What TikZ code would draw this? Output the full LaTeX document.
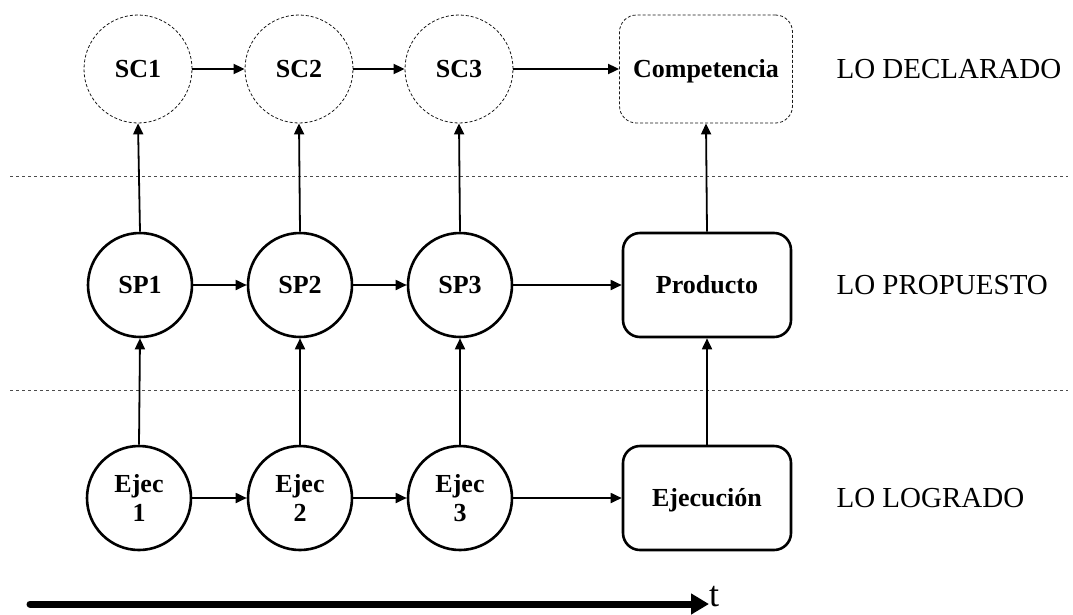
\documentclass[tikz,border=0pt]{standalone}
\usepackage{fontspec}
\setmainfont{Liberation Serif}
\usetikzlibrary{arrows.meta}
\begin{document}
\begin{tikzpicture}[x=1pt,y=-1pt,
  nfont/.style={font=\fontsize{26}{29}\selectfont\bfseries},
  oneline/.style={text height=17pt,text depth=0pt},
  dline/.style={draw=black!90,dash pattern=on 3pt off 2pt,line width=0.8pt},
  dcirc/.style={circle,dline,minimum size=108pt,inner sep=0pt,nfont,oneline},
  dbox/.style={rectangle,rounded corners=17pt,dline,minimum width=173pt,minimum height=108pt,nfont,oneline},
  scirc/.style={circle,draw=black,line width=2.6pt,minimum size=104pt,inner sep=0pt,align=center,nfont},
  sbox/.style={rectangle,rounded corners=17pt,draw=black,line width=2.6pt,minimum width=168pt,minimum height=104pt,nfont,oneline},
  lvl/.style={anchor=west,font=\fontsize{29}{31}\selectfont,text height=19pt,text depth=0pt},
  arr/.style={line width=1.8pt,-{Triangle[length=11pt,width=10pt]}},
  sep/.style={draw=black!70,dashed,line width=0.7pt}
]
\useasboundingbox (0,0) rectangle (1073,614);
% top row
\node[dcirc] (sc1) at (138,69) {SC1};
\node[dcirc] (sc2) at (299,69) {SC2};
\node[dcirc] (sc3) at (459,69) {SC3};
\node[dbox] (comp) at (706,69) {Competencia};
% middle row
\node[scirc,oneline] (sp1) at (140,285) {SP1};
\node[scirc,oneline] (sp2) at (300,285) {SP2};
\node[scirc,oneline] (sp3) at (460,285) {SP3};
\node[sbox] (prod) at (707,285) {Producto};
% bottom row
\node[scirc] (e1) at (139,498) {Ejec\\1};
\node[scirc] (e2) at (300,498) {Ejec\\2};
\node[scirc] (e3) at (460,498) {Ejec\\3};
\node[sbox] (ejec) at (707,498) {Ejecución};
% level labels
\node[lvl] (l1) at (833,69) {LO DECLARADO};
\node[lvl] (l2) at (833,285) {LO PROPUESTO};
\node[lvl] (l3) at (833,498) {LO LOGRADO};
% separators
\coordinate (s1a) at (10,176); \coordinate (s1b) at (1068,176);
\coordinate (s2a) at (10,390); \coordinate (s2b) at (1068,390);
\draw[sep] (s1a) -- (s1b);
\draw[sep] (s2a) -- (s2b);
% horizontal arrows
\draw[arr] (sc1) -- (sc2);
\draw[arr] (sc2) -- (sc3);
\draw[arr] (sc3) -- (comp);
\draw[arr] (sp1) -- (sp2);
\draw[arr] (sp2) -- (sp3);
\draw[arr] (sp3) -- (prod);
\draw[arr] (e1) -- (e2);
\draw[arr] (e2) -- (e3);
\draw[arr] (e3) -- (ejec);
% vertical arrows
\draw[arr] (sp1.north) -- (sc1.south);
\draw[arr] (sp2.north) -- (sc2.south);
\draw[arr] (sp3.north) -- (sc3.south);
\draw[arr] (prod.north) -- (comp.south);
\draw[arr] (e1.north) -- (sp1.south);
\draw[arr] (e2.north) -- (sp2.south);
\draw[arr] (e3.north) -- (sp3.south);
\draw[arr] (ejec.north) -- (prod.south);
% time axis
\coordinate (t0) at (30,604);
\node[anchor=west,inner sep=0pt,font=\fontsize{36}{38}\selectfont,text height=21pt,text depth=0pt] (tl) at (709,596) {t};
\draw[line width=7pt,line cap=round,-{Triangle[length=18pt,width=20pt,line cap=butt]}] (t0) -- (tl.west |- t0);
\end{tikzpicture}
\end{document}
